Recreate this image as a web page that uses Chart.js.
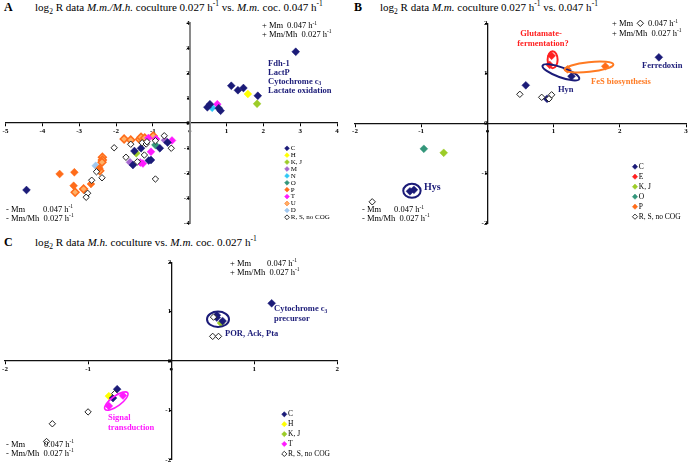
<!DOCTYPE html>
<html>
<head>
<meta charset="utf-8">
<script src="https://cdn.jsdelivr.net/npm/chart.js@4.4.1/dist/chart.umd.min.js"></script>
<style>
  body { margin: 0; background: #fff; }
  #page { position: relative; width: 691px; height: 465px; overflow: hidden; font-family: "Liberation Serif", serif; color: #000; }
  #page canvas { position: absolute; left: 0; top: 0; }
  .ttl { position: absolute; font-size: 11px; line-height: 13px; white-space: nowrap; }
  .ttl b { font-size: 12px; }
  .ttl sub, .ttl sup { font-size: 0.68em; line-height: 0; }
</style>
</head>
<body>
<div id="page">
  <div class="ttl" style="left:4px;top:1px"><b>A</b></div>
  <div class="ttl fit" data-w="288" style="left:35px;top:1px">log<sub>2</sub> R data <i>M.m./M.h.</i> coculture 0.027 h<sup>-1</sup> vs. <i>M.m.</i> coc. 0.047 h<sup>-1</sup></div>
  <div class="ttl" style="left:354px;top:1px"><b>B</b></div>
  <div class="ttl fit" data-w="218" style="left:380px;top:1px">log<sub>2</sub> R data <i>M.m.</i> coculture 0.027 h<sup>-1</sup> vs. 0.047 h<sup>-1</sup></div>
  <div class="ttl" style="left:4px;top:236px"><b>C</b></div>
  <div class="ttl fit" data-w="222" style="left:35px;top:236px">log<sub>2</sub> R data <i>M.h.</i> coculture vs. <i>M.m.</i> coc. 0.027 h<sup>-1</sup></div>
  <canvas id="chartA" width="691" height="465"></canvas>
  <canvas id="chartB" width="691" height="465"></canvas>
  <canvas id="chartC" width="691" height="465"></canvas>
</div>
<script>
const OPEN = 'R, S, no COG';

// ---- panel A: M.m./M.h. coculture 0.027 vs M.m. coc. 0.047 ----
const catsA = ['C', 'H', 'K, J', 'M', 'N', 'O', 'P', 'T', 'U', 'D', OPEN];
const aC = [[0.48, 0.63], [0.55, 0.75], [0.79, 0.59], [0.84, 0.49], [1.13, 1.49], [1.31, 1.31],
  [1.46, 1.40], [1.85, 1.09], [2.88, 2.85], [-0.60, -0.78], [-0.81, -1.01], [-1.50, -1.12],
  [-1.32, -1.01], [-1.54, -1.68], [-1.11, -1.50], [-1.05, -1.48], [-4.43, -2.68]];
const aH = [[1.58, 1.16]];
const aKJ = [[1.83, 0.77], [-1.45, -1.21]];
const aM = [[-0.67, -0.69], [-1.62, -1.57]];
const aN = [[0.61, 0.61]];
const aO = [[-0.93, -0.88]];
const aP = [[-3.53, -2.04], [-3.13, -1.97], [-3.15, -2.51], [-2.68, -2.44], [-2.45, -1.81]];
const aT = [[0.75, 0.75], [-1.12, -0.60], [-0.91, -0.64], [-0.48, -0.70], [-1.05, -1.15],
  [-1.34, -1.58], [-1.27, -1.62]];
const aU = [[-3.11, -2.77], [-2.88, -2.64], [-2.37, -1.37], [-2.37, -1.48], [-2.38, -1.57],
  [-2.44, -1.91], [-1.78, -0.64], [-1.60, -0.68], [-1.36, -0.65], [-1.32, -0.57],
  [-1.22, -0.60], [-0.99, -0.52]];
const aD = [[-2.55, -1.71]];
const aR = [[-2.05, -0.99], [-1.60, -0.85], [-1.29, -0.79], [-1.18, -0.84], [-1.16, -0.75],
  [-0.93, -0.71], [-0.69, -0.51], [-0.50, -1.01], [-1.23, -1.28], [-1.73, -1.37],
  [-1.42, -1.55], [-0.93, -2.24], [-2.53, -1.95], [-2.38, -2.19], [-2.66, -2.29],
  [-2.77, -2.81], [-2.81, -2.97]];
const pointsA = { 'C': aC, 'H': aH, 'K, J': aKJ, 'M': aM, 'N': aN, 'O': aO, 'P': aP, 'T': aT, 'U': aU, 'D': aD, [OPEN]: aR };

// ---- panel B: M.m. coculture 0.027 vs 0.047 ----
const catsB = ['C', 'E', 'K, J', 'O', 'P', OPEN];
const bC = [[0.58, 0.76], [0.90, 0.49], [1.27, 0.94], [2.59, 1.32], [-1.17, -1.36], [-1.11, -1.33]];
const bE = [[0.97, 1.35], [0.94, 1.17]];
const bKJ = [[-0.66, -0.59]];
const bO = [[-0.96, -0.51]];
const bP = [[1.21, 1.08], [1.78, 1.14]];
const bR = [[0.49, 0.58], [0.82, 0.52], [0.97, 0.57], [0.93, 0.49], [-1.74, -1.57], [2.31, 2.0]];
const pointsB = { 'C': bC, 'E': bE, 'K, J': bKJ, 'O': bO, 'P': bP, [OPEN]: bR };

// ---- panel C: M.h. coculture vs M.m. coc. 0.027 ----
const catsC = ['C', 'H', 'K, J', 'T', OPEN];
const cC = [[0.55, 0.93], [0.55, 0.88], [0.62, 0.81], [1.21, 1.17], [-0.65, -0.57], [-0.70, -0.75]];
const cH = [[-0.75, -0.71]];
const cKJ = [[0.60, 0.77]];
const cT = [[-0.58, -0.70], [-0.75, -0.91]];
const cR = [[0.51, 0.89], [0.50, 0.50], [0.57, 0.50], [-0.68, -0.66], [-1.0, -1.03], [-1.43, -1.27], [-1.50, -1.63]];
const pointsC = { 'C': cC, 'H': cH, 'K, J': cKJ, 'T': cT, [OPEN]: cR };

const styleOf = {
  'C': { fill: '#1b1b78', line: '#1b1b78' },
  'E': { fill: '#ff2020', line: '#ff2020' },
  'H': { fill: '#ffff00', line: '#ffff00' },
  'K, J': { fill: '#9ccc28', line: '#9ccc28' },
  'M': { fill: '#a468cf', line: '#a468cf' },
  'N': { fill: '#2ec8f5', line: '#2ec8f5' },
  'O': { fill: '#33967a', line: '#33967a' },
  'P': { fill: '#ff6c1a', line: '#ff6c1a' },
  'T': { fill: '#ff1aff', line: '#ff1aff' },
  'U': { fill: '#ffb066', line: '#ff6c1a' },
  'D': { fill: '#9fc8f0', line: '#9fc8f0' },
  [OPEN]: { fill: '#ffffff', line: '#222222', open: true }
};

const SERIF = '"Liberation Serif", serif';
const NAVY = '#1b1b78';

// size the titles so they span the same width as in the figure
document.querySelectorAll('.fit').forEach(el => {
  const w = el.getBoundingClientRect().width;
  const target = Number(el.dataset.w);
  el.style.fontSize = (11 * target / w).toFixed(2) + 'px';
});

function buildSets(cats, points) {
  // open diamonds first so the coloured ones sit on top
  const order = [OPEN].concat(cats.filter(c => c !== OPEN));
  return order.map(cat => {
    const st = styleOf[cat];
    return {
      label: cat,
      data: points[cat].map(([x, y]) => ({ x, y })),
      pointStyle: 'rectRot',
      pointRadius: st.open ? 3.2 : 3.9,
      backgroundColor: st.fill,
      borderColor: st.line,
      borderWidth: st.open ? 1 : (cat === 'U' ? 1.5 : 0.5),
      clip: false
    };
  });
}

function rich(ctx, text, x, y, font, color, align) {
  const size = parseFloat(font.match(/([\d.]+)px/)[1]);
  const small = font.replace(/[\d.]+px/, (size * 0.65).toFixed(1) + 'px');
  const pieces = text.split(/(\^\{[^}]*\}|_\{[^}]*\})/).filter(Boolean).map(p => {
    if (p[0] === '^') return { t: p.slice(2, -1), f: small, dy: -size * 0.33 };
    if (p[0] === '_') return { t: p.slice(2, -1), f: small, dy: size * 0.25 };
    return { t: p, f: font, dy: 0 };
  });
  let w = 0;
  pieces.forEach(pc => { ctx.font = pc.f; pc.w = ctx.measureText(pc.t).width; w += pc.w; });
  let cx = align === 'center' ? x - w / 2 : x;
  ctx.fillStyle = color;
  ctx.textBaseline = 'middle';
  ctx.textAlign = 'left';
  pieces.forEach(pc => { ctx.font = pc.f; ctx.fillText(pc.t, cx, y + pc.dy); cx += pc.w; });
}

function diamond(ctx, x, y, r, st) {
  ctx.beginPath();
  ctx.moveTo(x, y - r); ctx.lineTo(x + r, y); ctx.lineTo(x, y + r); ctx.lineTo(x - r, y);
  ctx.closePath();
  ctx.fillStyle = st.fill; ctx.fill();
  ctx.lineWidth = st.open ? 0.9 : 0.6;
  ctx.strokeStyle = st.line; ctx.stroke();
}

function makeExtras(cfg) {
  return {
    id: 'extras',
    afterDatasetsDraw(chart) {
      const ctx = chart.ctx;
      const sx = chart.scales.x, sy = chart.scales.y;
      ctx.save();
      cfg.rings.forEach(r => {
        ctx.beginPath();
        ctx.ellipse(sx.getPixelForValue(r.x), sy.getPixelForValue(r.y), r.rx, r.ry, r.rot * Math.PI / 180, 0, Math.PI * 2);
        ctx.strokeStyle = r.color;
        ctx.lineWidth = r.lw;
        ctx.stroke();
      });
      cfg.notes.forEach(n => rich(ctx, n.text, n.x, n.y, n.font, n.color || '#000', n.align));
      const k = cfg.key;
      k.cats.forEach((cat, i) => {
        const y = k.y + i * k.step;
        diamond(ctx, k.x, y, k.r, styleOf[cat]);
        rich(ctx, cat, k.x + k.gap, y, k.font, '#000');
      });
      ctx.restore();
    }
  };
}

function axes(r, yAxisColor, yAxisWidth) {
  const tickFont = { family: 'Liberation Serif', size: 7, weight: 'bold' };
  const grid = { display: true, drawOnChartArea: false, drawTicks: true, tickLength: 3, color: '#000', lineWidth: 1 };
  return {
    x: {
      type: 'linear', min: r[0], max: r[1], position: { y: 0 },
      ticks: { stepSize: 1, font: tickFont, color: '#000', padding: 1, maxRotation: 0, autoSkip: false,
        callback: v => (v === 0 ? '\u25CF' : String(v)) },
      grid: grid,
      border: { display: true, color: '#111', width: 1.3 }
    },
    y: {
      type: 'linear', min: r[2], max: r[3], position: { x: 0 },
      ticks: { stepSize: 1, font: tickFont, color: '#000', padding: 1, autoSkip: false,
        callback: v => String(v) },
      grid: Object.assign({}, grid, { tickLength: 2 }),
      border: { display: true, color: yAxisColor, width: yAxisWidth }
    }
  };
}

function makeChart(id, cats, points, range, pad, yAxis, extras) {
  return new Chart(document.getElementById(id), {
    type: 'scatter',
    data: { datasets: buildSets(cats, points) },
    options: {
      responsive: false,
      animation: false,
      events: [],
      layout: { padding: pad },
      plugins: { legend: { display: false }, tooltip: { enabled: false } },
      scales: axes(range, yAxis[0], yAxis[1])
    },
    plugins: [makeExtras(extras)]
  });
}

const fLab = 'bold 8.5px ' + SERIF;
const fRate = '8.5px ' + SERIF;
const fKey = '7px ' + SERIF;

makeChart('chartA', catsA, pointsA, [-5, 4, -4, 4],
  { left: 2, right: 354, top: 23, bottom: 242 }, ['#8a8a8a', 2],
  {
    rings: [],
    notes: [
      { text: 'Fdh-1', x: 268, y: 63.5, font: fLab, color: NAVY },
      { text: 'LactP', x: 268, y: 72.5, font: fLab, color: NAVY },
      { text: 'Cytochrome c_{3}', x: 268, y: 81.5, font: fLab, color: NAVY },
      { text: 'Lactate oxidation', x: 268, y: 90.5, font: fLab, color: NAVY },
      { text: '+ Mm', x: 262, y: 26, font: fRate },
      { text: '0.047 h^{-1}', x: 287, y: 26, font: fRate },
      { text: '+ Mm/Mh  0.027 h^{-1}', x: 262, y: 34.5, font: fRate },
      { text: '- Mm', x: 6, y: 209.5, font: fRate },
      { text: '0.047 h^{-1}', x: 43, y: 209.5, font: fRate },
      { text: '- Mm/Mh  0.027 h^{-1}', x: 6, y: 218.5, font: fRate }
    ],
    key: { cats: catsA, x: 287, y: 148.3, step: 6.9, r: 2.4, gap: 3.8, font: fKey }
  });

makeChart('chartB', catsB, pointsB, [-2, 3, -2, 2],
  { left: 355, right: 2.7, top: 23.3, bottom: 241.7 }, ['#111', 1.3],
  {
    rings: [
      { x: 0.985, y: 1.27, rx: 5, ry: 8.5, rot: 0, color: '#ff2020', lw: 2 },
      { x: 1.11, y: 1.02, rx: 19.5, ry: 5, rot: 20, color: NAVY, lw: 2 },
      { x: 1.535, y: 1.125, rx: 24.5, ry: 4.8, rot: -6, color: '#ff7a22', lw: 2 },
      { x: -1.14, y: -1.35, rx: 8.7, ry: 7, rot: 0, color: NAVY, lw: 2 }
    ],
    notes: [
      { text: 'Glutamate-', x: 541, y: 33.5, font: fLab, color: '#ff2020', align: 'center' },
      { text: 'fermentation?', x: 543, y: 43.5, font: fLab, color: '#ff2020', align: 'center' },
      { text: 'Hyn', x: 558, y: 89.5, font: fLab, color: NAVY },
      { text: 'FeS biosynthesis', x: 591, y: 82, font: fLab, color: '#ff7a22' },
      { text: 'Ferredoxin', x: 642, y: 66, font: fLab, color: NAVY },
      { text: 'Hys', x: 424, y: 187.5, font: 'bold 10px ' + SERIF, color: NAVY },
      { text: '+ Mm', x: 612, y: 24, font: fRate },
      { text: '0.047 h^{-1}', x: 648, y: 24, font: fRate },
      { text: '+ Mm/Mh  0.027 h^{-1}', x: 612, y: 33.3, font: fRate },
      { text: '- Mm', x: 362, y: 210, font: fRate },
      { text: '0.047 h^{-1}', x: 394, y: 210, font: fRate },
      { text: '- Mm/Mh  0.027 h^{-1}', x: 362, y: 218.5, font: fRate }
    ],
    key: { cats: catsB, x: 635, y: 166.7, step: 10, r: 2.6, gap: 3.8, font: '7.5px ' + SERIF }
  });

makeChart('chartC', catsC, pointsC, [-2, 2, -2, 2],
  { left: 1.3, right: 353.7, top: 262.3, bottom: 2.7 }, ['#111', 1.3],
  {
    rings: [
      { x: 0.564, y: 0.846, rx: 11, ry: 7.7, rot: 0, color: NAVY, lw: 2 },
      { x: -0.66, y: -0.81, rx: 14, ry: 5, rot: -36, color: '#ff1aff', lw: 1.6 }
    ],
    notes: [
      { text: 'Cytochrome c_{3}', x: 274, y: 309, font: fLab, color: NAVY },
      { text: 'precursor', x: 274, y: 318.5, font: fLab, color: NAVY },
      { text: 'POR, Ack, Pta', x: 225, y: 334, font: fLab, color: NAVY },
      { text: 'Signal', x: 108, y: 417.5, font: fLab, color: '#ff1aff' },
      { text: 'transduction', x: 108, y: 428, font: fLab, color: '#ff1aff' },
      { text: '+ Mm', x: 230, y: 263.5, font: fRate },
      { text: '0.047 h^{-1}', x: 267, y: 263.5, font: fRate },
      { text: '+ Mm/Mh  0.027 h^{-1}', x: 230, y: 272.7, font: fRate },
      { text: '- Mm', x: 6, y: 444.3, font: fRate },
      { text: '0.047 h^{-1}', x: 44, y: 444.3, font: fRate },
      { text: '- Mm/Mh  0.027 h^{-1}', x: 6, y: 453.3, font: fRate }
    ],
    key: { cats: catsC, x: 284.3, y: 414.3, step: 9.9, r: 2.6, gap: 3.8, font: '7.5px ' + SERIF }
  });
</script>
</body>
</html>
